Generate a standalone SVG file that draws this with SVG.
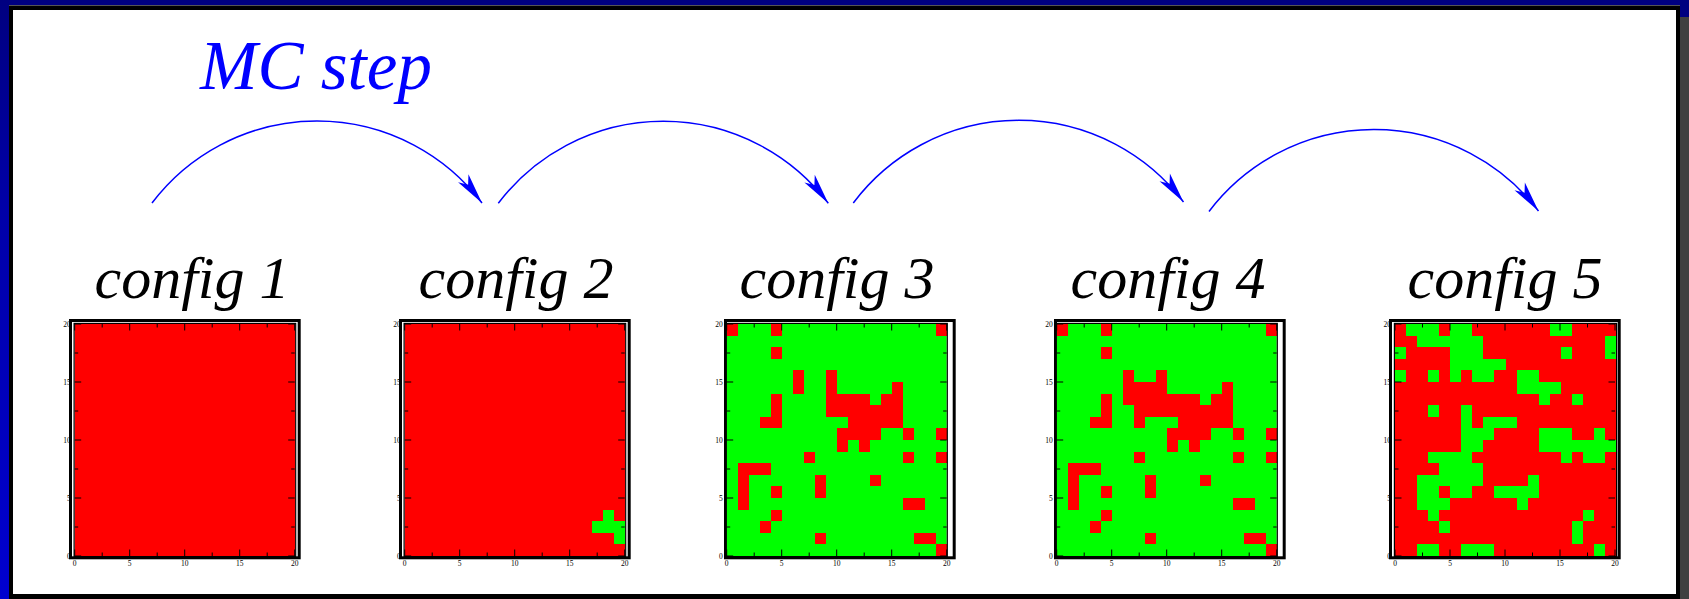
<svg xmlns="http://www.w3.org/2000/svg" xmlns:xlink="http://www.w3.org/1999/xlink" width="1689" height="599" viewBox="0 0 1689 599">
<style>
.cfg{font-family:"Liberation Serif",serif;font-style:italic;font-size:60px;text-anchor:middle;fill:#000}
.title{font-family:"Liberation Serif",serif;font-style:italic;font-size:69px;fill:#0000ff}
.tk{font-family:"Liberation Serif",serif;font-size:7.5px;fill:#000}
.tkm{text-anchor:middle}
.tke{text-anchor:end}
.frame{fill:#fff;stroke:#000;stroke-width:3}
.pb{fill:none;stroke:#000;stroke-width:1.2}
.tick{fill:none;stroke:#000;stroke-width:1}
.arc{fill:none;stroke:#0000ff;stroke-width:1.5;marker-end:url(#ah)}
.cells{shape-rendering:crispEdges}
.red{fill:#ff0000}
.green{fill:#00ff00}
</style>
<defs>
<linearGradient id="lg" x1="0" y1="0" x2="0" y2="1">
<stop offset="0" stop-color="#000080"/>
<stop offset="0.35" stop-color="#0000a8"/>
<stop offset="1" stop-color="#0000d0"/>
</linearGradient>
<marker id="ah" markerUnits="userSpaceOnUse" viewBox="-32 -10 34 20" markerWidth="34" markerHeight="20" refX="0" refY="0" orient="auto">
<path d="M0,0 L-31,-6.5 L-23,0 L-31,6.5 Z" fill="#0000ff"/>
</marker>
<g id="ylab" class="tk tke">
<text x="-4" y="234.5">0</text>
<text x="-4" y="176.5">5</text>
<text x="-4" y="118.5">10</text>
<text x="-4" y="60.5">15</text>
<text x="-4" y="2.5">20</text>
</g>
<g id="ticks">
<path class="tick" d="M0,232v-6.5M55,232v-6.5M110,232v-6.5M165,232v-6.5M220,232v-6.5M27.5,232v-3.5M82.5,232v-3.5M137.5,232v-3.5M192.5,232v-3.5M0,0v6.5M55,0v6.5M110,0v6.5M165,0v6.5M220,0v6.5M27.5,0v3.5M82.5,0v3.5M137.5,0v3.5M192.5,0v3.5M0,0h6.5M0,58h6.5M0,116h6.5M0,174h6.5M0,232h6.5M0,29h3.5M0,87h3.5M0,145h3.5M0,203h3.5M220,0h-6.5M220,58h-6.5M220,116h-6.5M220,174h-6.5M220,232h-6.5M220,29h-3.5M220,87h-3.5M220,145h-3.5M220,203h-3.5"/>
<g class="tk tkm">
<text x="0" y="242">0</text>
<text x="55" y="242">5</text>
<text x="110" y="242">10</text>
<text x="165" y="242">15</text>
<text x="220" y="242">20</text>
</g>
</g>
</defs>

<g id="window">
<rect x="0" y="0" width="1689" height="599" fill="#000080"/>
<rect x="0" y="0" width="9" height="599" fill="url(#lg)"/>
<rect x="1680" y="17" width="9" height="582" fill="#404040"/>
<rect x="9" y="5" width="1671" height="1" fill="#555"/>
<rect x="9" y="6" width="1671" height="593" fill="#000"/>
<rect x="13" y="10" width="1663" height="584" fill="#fff"/>
</g>

<text id="title" class="title" x="200" y="89">MC step</text>

<g id="connectors">
<path class="arc" d="M152,203 A207,207 0 0 1 482,203"/>
<path class="arc" d="M498.3,203.3 A207,207 0 0 1 828.3,203.3"/>
<path class="arc" d="M853.3,203 A207,207 0 0 1 1183.5,202"/>
<path class="arc" d="M1209,211.5 A207,207 0 0 1 1538.5,211"/>
</g>

<g id="config1">
<text class="cfg" x="192" y="298">config 1</text>
<use xlink:href="#ylab" transform="translate(74.7,324)"/>
<rect class="frame" x="70.5" y="320.5" width="228.7" height="237.3"/>
<rect class="red" x="74.7" y="324" width="220.4" height="232"/>
<rect class="pb" x="74.1" y="323.4" width="221.6" height="233.2"/>
<use xlink:href="#ticks" transform="translate(74.7,324)"/>
</g>

<g id="config2">
<text class="cfg" x="516" y="298">config 2</text>
<use xlink:href="#ylab" transform="translate(404.7,324)"/>
<rect class="frame" x="400.5" y="320.5" width="228.7" height="237.3"/>
<rect class="red" x="404.7" y="324" width="220.4" height="232"/>
<g class="cells green" transform="translate(404.7,324) scale(11.02,11.6)">
<rect x="18" y="16" width="1" height="1"/>
<rect x="17" y="17" width="3" height="1"/>
<rect x="19" y="18" width="1" height="1"/>
</g>
<rect class="pb" x="404.1" y="323.4" width="221.6" height="233.2"/>
<use xlink:href="#ticks" transform="translate(404.7,324)"/>
</g>

<g id="config3">
<text class="cfg" x="837" y="298">config 3</text>
<use xlink:href="#ylab" transform="translate(726.7,324)"/>
<rect class="frame" x="725.5" y="320.5" width="228.7" height="237.3"/>
<rect class="green" x="726.7" y="324" width="220" height="232"/>
<g class="cells red" transform="translate(726.7,324) scale(11,11.6)">
<rect x="0" y="0" width="1" height="1"/><rect x="4" y="0" width="1" height="1"/><rect x="19" y="0" width="1" height="1"/>
<rect x="4" y="2" width="1" height="1"/>
<rect x="6" y="4" width="1" height="2"/><rect x="9" y="4" width="1" height="2"/>
<rect x="15" y="5" width="1" height="1"/>
<rect x="4" y="6" width="1" height="2"/><rect x="9" y="6" width="4" height="1"/><rect x="14" y="6" width="2" height="1"/>
<rect x="9" y="7" width="7" height="1"/>
<rect x="3" y="8" width="2" height="1"/><rect x="11" y="8" width="5" height="1"/>
<rect x="10" y="9" width="4" height="1"/><rect x="16" y="9" width="1" height="1"/><rect x="19" y="9" width="1" height="1"/>
<rect x="10" y="10" width="1" height="1"/><rect x="12" y="10" width="1" height="1"/>
<rect x="7" y="11" width="1" height="1"/><rect x="16" y="11" width="1" height="1"/><rect x="19" y="11" width="1" height="1"/>
<rect x="1" y="12" width="3" height="1"/>
<rect x="1" y="13" width="1" height="3"/><rect x="8" y="13" width="1" height="2"/><rect x="13" y="13" width="1" height="1"/>
<rect x="4" y="14" width="1" height="1"/>
<rect x="16" y="15" width="2" height="1"/>
<rect x="4" y="16" width="1" height="1"/>
<rect x="3" y="17" width="1" height="1"/>
<rect x="8" y="18" width="1" height="1"/><rect x="17" y="18" width="2" height="1"/>
<rect x="19" y="19" width="1" height="1"/>
</g>
<rect class="pb" x="726.1" y="323.4" width="221.2" height="233.2"/>
<use xlink:href="#ticks" transform="translate(726.7,324)"/>
</g>

<g id="config4">
<text class="cfg" x="1168" y="298">config 4</text>
<use xlink:href="#ylab" transform="translate(1056.7,324)"/>
<rect class="frame" x="1055.5" y="320.5" width="228.7" height="237.3"/>
<rect class="green" x="1056.7" y="324" width="220" height="232"/>
<g class="cells red" transform="translate(1056.7,324) scale(11,11.6)">
<rect x="0" y="0" width="1" height="1"/><rect x="4" y="0" width="1" height="1"/><rect x="19" y="0" width="1" height="1"/>
<rect x="4" y="2" width="1" height="1"/>
<rect x="6" y="4" width="1" height="1"/><rect x="9" y="4" width="1" height="1"/>
<rect x="6" y="5" width="4" height="1"/><rect x="15" y="5" width="1" height="1"/>
<rect x="4" y="6" width="1" height="2"/><rect x="6" y="6" width="7" height="1"/><rect x="14" y="6" width="2" height="1"/>
<rect x="7" y="7" width="9" height="1"/>
<rect x="3" y="8" width="2" height="1"/><rect x="7" y="8" width="1" height="1"/><rect x="11" y="8" width="5" height="1"/>
<rect x="10" y="9" width="4" height="1"/><rect x="16" y="9" width="1" height="1"/><rect x="19" y="9" width="1" height="1"/>
<rect x="10" y="10" width="1" height="1"/><rect x="12" y="10" width="1" height="1"/>
<rect x="7" y="11" width="1" height="1"/><rect x="16" y="11" width="1" height="1"/><rect x="19" y="11" width="1" height="1"/>
<rect x="1" y="12" width="3" height="1"/>
<rect x="1" y="13" width="1" height="3"/><rect x="8" y="13" width="1" height="2"/><rect x="13" y="13" width="1" height="1"/>
<rect x="4" y="14" width="1" height="1"/>
<rect x="16" y="15" width="2" height="1"/>
<rect x="4" y="16" width="1" height="1"/>
<rect x="3" y="17" width="1" height="1"/>
<rect x="8" y="18" width="1" height="1"/><rect x="17" y="18" width="2" height="1"/>
<rect x="19" y="19" width="1" height="1"/>
</g>
<rect class="pb" x="1056.1" y="323.4" width="221.2" height="233.2"/>
<use xlink:href="#ticks" transform="translate(1056.7,324)"/>
</g>

<g id="config5">
<text class="cfg" x="1505" y="298">config 5</text>
<use xlink:href="#ylab" transform="translate(1395,324)"/>
<rect class="frame" x="1390.5" y="320.5" width="228.7" height="237.3"/>
<rect class="red" x="1395" y="324" width="221" height="232"/>
<g class="cells green" transform="translate(1395,324) scale(11.05,11.6)">
<rect x="1" y="0" width="3" height="1"/><rect x="5" y="0" width="2" height="1"/><rect x="14" y="0" width="2" height="1"/>
<rect x="2" y="1" width="6" height="1"/><rect x="19" y="1" width="1" height="2"/>
<rect x="0" y="2" width="1" height="1"/><rect x="5" y="2" width="3" height="1"/><rect x="15" y="2" width="1" height="1"/>
<rect x="5" y="3" width="5" height="1"/>
<rect x="0" y="4" width="1" height="1"/><rect x="3" y="4" width="1" height="1"/><rect x="5" y="4" width="1" height="1"/><rect x="7" y="4" width="2" height="1"/><rect x="11" y="4" width="2" height="1"/>
<rect x="11" y="5" width="4" height="1"/>
<rect x="13" y="6" width="1" height="1"/><rect x="16" y="6" width="1" height="1"/>
<rect x="3" y="7" width="1" height="1"/><rect x="6" y="7" width="1" height="1"/>
<rect x="6" y="8" width="1" height="1"/><rect x="8" y="8" width="3" height="1"/>
<rect x="6" y="9" width="3" height="1"/><rect x="13" y="9" width="3" height="1"/><rect x="18" y="9" width="1" height="1"/>
<rect x="6" y="10" width="2" height="1"/><rect x="13" y="10" width="7" height="1"/>
<rect x="3" y="11" width="4" height="1"/><rect x="15" y="11" width="1" height="1"/><rect x="17" y="11" width="2" height="1"/>
<rect x="4" y="12" width="4" height="1"/>
<rect x="2" y="13" width="6" height="1"/><rect x="12" y="13" width="1" height="1"/>
<rect x="2" y="14" width="2" height="1"/><rect x="5" y="14" width="2" height="1"/><rect x="9" y="14" width="4" height="1"/>
<rect x="2" y="15" width="3" height="1"/><rect x="11" y="15" width="1" height="1"/>
<rect x="3" y="16" width="1" height="1"/><rect x="17" y="16" width="1" height="1"/>
<rect x="4" y="17" width="1" height="1"/><rect x="16" y="17" width="1" height="2"/>
<rect x="2" y="19" width="2" height="1"/><rect x="6" y="19" width="3" height="1"/><rect x="18" y="19" width="1" height="1"/>
</g>
<rect class="pb" x="1394.4" y="323.4" width="222.2" height="233.2"/>
<use xlink:href="#ticks" transform="translate(1395,324)"/>
</g>
</svg>
